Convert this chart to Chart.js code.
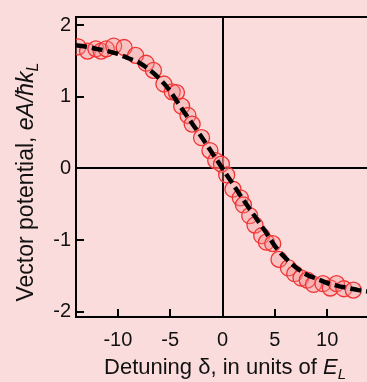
<!DOCTYPE html>
<html>
<head>
<meta charset="utf-8">
<script src="https://cdn.jsdelivr.net/npm/chart.js@4/dist/chart.umd.min.js"></script>
<style>
  html, body { margin: 0; padding: 0; background: #fbdcdc; overflow: hidden; }
  #wrap { position: relative; width: 380px; height: 382px; }
</style>
</head>
<body>
<div id="wrap"><canvas id="c" width="380" height="382"></canvas></div>
<script>
// Measured vector potential vs. detuning
const detuning = [-13.8, -12.9, -12.1, -11.6, -11.1, -10.4, -9.4, -8.3, -7.3, -6.6, -5.6, -4.8, -4.4,
  -3.9, -3.3, -2.9, -2.0, -1.2, -0.65, -0.1, 0.4, 1.0, 1.7, 2.0, 2.6, 3.1, 3.75, 4.2, 4.8, 5.4,
  6.3, 6.9, 7.5, 8.1, 8.7, 9.6, 10.3, 10.9, 11.6, 12.5];
const potential = [1.70, 1.64, 1.67, 1.64, 1.67, 1.71, 1.69, 1.58, 1.47, 1.37, 1.18, 1.07, 1.06,
  0.87, 0.74, 0.62, 0.43, 0.25, 0.11, 0.06, -0.09, -0.29, -0.41, -0.51, -0.66, -0.79, -0.94, -1.03, -1.05, -1.27,
  -1.39, -1.47, -1.53, -1.56, -1.62, -1.61, -1.67, -1.61, -1.68, -1.70];

// Theory curve
const fitDetuning = [-14, -13, -12, -11, -10, -9, -8, -7, -6, -5, -4, -3, -2, -1, 0,
  1, 2, 3, 4, 5, 6, 7, 8, 9, 10, 11, 12, 13, 14];
const fitPotential = [1.72, 1.70, 1.67, 1.64, 1.60, 1.54, 1.48, 1.38, 1.25, 1.08, 0.86, 0.65, 0.44, 0.22, 0,
  -0.22, -0.44, -0.65, -0.86, -1.08, -1.25, -1.38, -1.48, -1.54, -1.60, -1.64, -1.67, -1.70, -1.72];

const xTicks = [-10, -5, 0, 5, 10];
const yTicks = [-2, -1, 0, 1, 2];

const FONT = '"Liberation Sans", Arial, Helvetica, sans-serif';

// Frame: top border and inward tick marks
const framePlugin = {
  id: 'frame',
  afterDatasetsDraw(chart) {
    const { ctx, chartArea: a, scales: { x, y } } = chart;
    ctx.save();
    ctx.strokeStyle = '#000';
    ctx.lineWidth = 2;
    ctx.beginPath();
    ctx.moveTo(a.left - 1, a.top);
    ctx.lineTo(a.right, a.top);
    ctx.stroke();
    ctx.beginPath();
    for (const v of yTicks) {
      const py = Math.round(y.getPixelForValue(v));
      ctx.moveTo(a.left, py);
      ctx.lineTo(a.left + 8, py);
    }
    for (const v of xTicks) {
      const px = Math.round(x.getPixelForValue(v));
      ctx.moveTo(px, a.bottom);
      ctx.lineTo(px, a.bottom - 8);
    }
    ctx.stroke();
    ctx.restore();
  }
};

// Axis titles with italic symbols and subscripts
function drawRuns(ctx, runs, x, y) {
  let cx = x;
  for (const r of runs) {
    ctx.font = (r.italic ? 'italic ' : '') + r.size + 'px ' + FONT;
    ctx.fillText(r.text, cx, y + (r.dy || 0));
    cx += ctx.measureText(r.text).width;
  }
  return cx - x;
}
function measureRuns(ctx, runs) {
  let w = 0;
  for (const r of runs) {
    ctx.font = (r.italic ? 'italic ' : '') + r.size + 'px ' + FONT;
    w += ctx.measureText(r.text).width;
  }
  return w;
}
const titlePlugin = {
  id: 'titles',
  afterDraw(chart) {
    const { ctx } = chart;
    ctx.save();
    ctx.fillStyle = '#111';
    ctx.textBaseline = 'alphabetic';
    ctx.textAlign = 'left';
    const xRuns = [
      { text: 'Detuning δ, in units of ', size: 22 },
      { text: 'E', size: 22, italic: true },
      { text: 'L', size: 15, italic: true, dy: 5 }
    ];
    const xw = measureRuns(ctx, xRuns);
    drawRuns(ctx, xRuns, 225 - xw / 2, 374);

    const yRuns = [
      { text: 'Vector potential, ', size: 23 },
      { text: 'eA/ħk', size: 23, italic: true },
      { text: 'L', size: 16, italic: true, dy: 5 }
    ];
    const yw = measureRuns(ctx, yRuns);
    ctx.translate(33, 182);
    ctx.rotate(-Math.PI / 2);
    drawRuns(ctx, yRuns, -yw / 2, 0);
    ctx.restore();
  }
};

new Chart(document.getElementById('c'), {
  type: 'scatter',
  data: {
    datasets: [
      {
        type: 'line',
        label: 'fit',
        data: fitDetuning.map((d, i) => ({ x: d, y: fitPotential[i] })),
        borderColor: '#000',
        borderWidth: 4.5,
        borderDash: [11, 5],
        pointRadius: 0,
        cubicInterpolationMode: 'monotone',
        fill: false,
        order: 0
      },
      {
        label: 'data',
        data: detuning.map((d, i) => ({ x: d, y: potential[i] })),
        pointRadius: 8,
        pointBorderWidth: 1.3,
        pointBorderColor: '#f03434',
        pointBackgroundColor: 'rgba(244, 150, 150, 0.35)',
        order: 1
      }
    ]
  },
  options: {
    responsive: false,
    animation: false,
    events: [],
    layout: { padding: { top: 11, right: 11, left: 0, bottom: 0 } },
    plugins: { legend: { display: false }, tooltip: { enabled: false } },
    scales: {
      x: {
        type: 'linear',
        min: -14,
        max: 14,
        afterBuildTicks: s => { s.ticks = xTicks.map(v => ({ value: v })); },
        afterFit: s => { s.height = 65; },
        grid: {
          drawTicks: false,
          lineWidth: 2,
          color: c => (c.tick && c.tick.value === 0 ? '#000' : 'rgba(0,0,0,0)')
        },
        border: { display: true, color: '#000', width: 2 },
        ticks: {
          padding: 11,
          color: '#111',
          font: { family: FONT, size: 20 },
          maxRotation: 0,
          callback: v => String(v)
        }
      },
      y: {
        type: 'linear',
        min: -2.075,
        max: 2.116,
        afterBuildTicks: s => { s.ticks = yTicks.map(v => ({ value: v })); },
        afterFit: s => { s.width = 76; },
        grid: {
          drawTicks: false,
          lineWidth: 2,
          color: c => (c.tick && c.tick.value === 0 ? '#000' : 'rgba(0,0,0,0)')
        },
        border: { display: true, color: '#000', width: 2 },
        ticks: {
          padding: 5,
          color: '#111',
          font: { family: FONT, size: 20 },
          callback: v => String(v)
        }
      }
    }
  },
  plugins: [framePlugin, titlePlugin]
});
</script>
</body>
</html>
